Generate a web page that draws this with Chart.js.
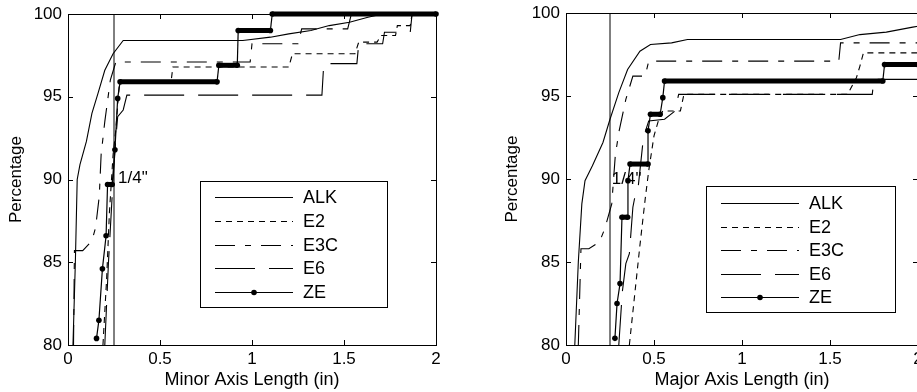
<!DOCTYPE html>
<html>
<head>
<meta charset="utf-8">
<script src="https://cdn.jsdelivr.net/npm/chart.js@4.4.1/dist/chart.umd.min.js"></script>
<style>
  html, body { margin: 0; padding: 0; background: #fff; overflow: hidden; }
  body { width: 917px; height: 392px; position: relative; }
  canvas { position: absolute; top: 0; }
  #minorChart { left: 0; }
  #majorChart { left: 496px; }
</style>
</head>
<body>
<canvas id="minorChart" width="460" height="392"></canvas>
<canvas id="majorChart" width="446" height="392"></canvas>
<script>
// series and axis values
const seriesNames = ['ALK', 'E2', 'E3C', 'E6', 'ZE'];
const xTicks = [0, 0.5, 1, 1.5, 2];
const yTicks = [80, 85, 90, 95, 100];
const quarterInch = 0.25;
const quarterLabel = '1/4"';

// minor axis length (in) vs cumulative percentage
const minorALK = [[0.027,80],[0.04,85],[0.05,90],[0.065,90.9],[0.1,92.3],[0.13,94.0],[0.163,95.2],[0.2,96.6],[0.245,97.6],[0.3,98.4],[0.95,98.4],[1.1,98.6],[1.2,98.8],[1.32,99.0],[1.42,99.3],[1.53,99.5],[1.63,99.8],[1.71,100],[2,100]];
const minorE2 = [[0.19,80],[0.21,84],[0.225,88],[0.245,91.5],[0.26,93],[0.27,94.5],[0.28,95.9],[0.56,95.9],[0.57,96.8],[1.2,96.8],[1.22,97.6],[1.56,97.6],[1.58,98.3],[1.68,98.3],[1.7,98.7],[1.78,98.7],[1.79,99.3],[1.86,99.3],[1.87,100],[2,100]];
const minorE3C = [[0.03,80],[0.035,85.7],[0.08,85.7],[0.13,86.3],[0.15,87.1],[0.17,89],[0.18,91.5],[0.2,93.5],[0.23,96],[0.26,97.1],[0.99,97.1],[1.0,98.2],[1.25,98.2],[1.27,99.1],[1.52,99.1],[1.54,100],[2,100]];
const minorE6 = [[0.2,80],[0.22,85],[0.245,90],[0.26,92.5],[0.27,93.8],[0.3,94.2],[0.32,95.1],[1.38,95.1],[1.39,97.0],[1.57,97.0],[1.58,98.2],[1.71,98.2],[1.72,98.9],[1.86,98.9],[1.87,100],[2,100]];
const minorZE = [[0.155,80.4],[0.168,81.5],[0.187,84.6],[0.207,86.6],[0.215,89.7],[0.24,89.7],[0.255,91.8],[0.27,94.9],[0.283,95.9],[0.81,95.9],[0.82,96.9],[0.92,96.9],[0.925,99.0],[1.1,99.0],[1.11,100],[2,100]];

// major axis length (in) vs cumulative percentage
const majorALK = [[0.05,80],[0.07,85],[0.09,88.5],[0.108,89.9],[0.15,90.8],[0.21,92.2],[0.25,93.6],[0.3,95.2],[0.35,96.6],[0.42,97.7],[0.48,98.1],[0.6,98.2],[0.69,98.4],[1.56,98.4],[1.67,98.7],[1.82,98.85],[1.97,99.15],[2,99.2]];
const majorE2 = [[0.36,80],[0.39,83],[0.42,86],[0.45,88.8],[0.47,90.5],[0.5,92.6],[0.53,93.7],[0.55,94.1],[0.65,94.1],[0.67,95.1],[1.6,95.1],[1.65,96.1],[1.67,96.8],[1.69,97.6],[2,97.6]];
const majorE3C = [[0.07,80],[0.085,85.8],[0.13,85.8],[0.19,86.2],[0.22,87],[0.26,88.5],[0.28,91.4],[0.3,92.8],[0.34,94.8],[0.38,96.2],[0.45,96.2],[0.47,97.1],[1.55,97.1],[1.56,98.2],[2,98.2]];
const majorE6 = [[0.3,80],[0.32,83.2],[0.34,84.9],[0.36,85.5],[0.38,88.3],[0.4,89.4],[0.41,89.5],[0.44,92.5],[0.47,93.5],[0.56,93.6],[0.62,94.1],[0.64,95.1],[1.74,95.1],[1.75,96.0],[2,96.0]];
const majorZE = [[0.278,80.4],[0.29,82.5],[0.307,83.7],[0.318,87.7],[0.35,87.7],[0.352,89.9],[0.364,90.9],[0.466,90.9],[0.466,92.9],[0.48,93.9],[0.535,93.9],[0.55,94.9],[0.56,95.9],[1.8,95.9],[1.81,96.9],[2,96.9]];

// line styles, matlab-ish
const lineStyles = {
  ALK: { dash: [] },
  E2:  { dash: [6, 5] },
  E3C: { dash: [20, 10, 6, 10] },
  E6:  { dash: [40, 14] },
  ZE:  { dash: [], dots: true }
};

const FONT = "'Liberation Sans', Arial, Helvetica, sans-serif";
Chart.defaults.font.family = FONT;
Chart.defaults.font.size = 17;
Chart.defaults.color = '#000';

function toPoints(pairs) {
  return pairs.map(([x, y]) => ({ x, y }));
}

function buildDatasets(panel) {
  const sets = seriesNames.map(name => {
    const st = lineStyles[name];
    return {
      label: name,
      data: toPoints(panel[name]),
      borderColor: '#000',
      backgroundColor: '#000',
      borderWidth: 1.1,
      borderDash: st.dash,
      pointRadius: st.dots ? 2.8 : 0,
      pointHoverRadius: 0,
      pointBackgroundColor: '#000',
      pointBorderWidth: 0,
      tension: 0,
      fill: false,
      clip: 4,
      // flat runs of the dotted series look solid because the dots pile up
      segment: st.dots ? { borderWidth: c => c.p0.parsed.y === c.p1.parsed.y ? 5 : 1.2 } : {}
    };
  });
  // the 1/4" reference line
  sets.push({
    label: '',
    data: [{ x: quarterInch, y: yTicks[0] }, { x: quarterInch, y: yTicks[yTicks.length - 1] }],
    borderColor: '#000',
    borderWidth: 1,
    pointRadius: 0,
    clip: 0
  });
  return sets;
}

// box, inward ticks, the 1/4" text and the legend
const framePlugin = {
  id: 'frame',
  afterDatasetsDraw(chart, args, o) {
    const { ctx, chartArea: a, scales: { x, y } } = chart;
    ctx.save();
    ctx.strokeStyle = '#000';
    ctx.fillStyle = '#000';
    ctx.lineWidth = 1;
    ctx.setLineDash([]);
    ctx.strokeRect(a.left + 0.5, a.top + 0.5, a.right - a.left, a.bottom - a.top);

    ctx.beginPath();
    xTicks.forEach(v => {
      const px = Math.round(x.getPixelForValue(v)) + 0.5;
      ctx.moveTo(px, a.bottom); ctx.lineTo(px, a.bottom - 5);
      ctx.moveTo(px, a.top); ctx.lineTo(px, a.top + 5);
    });
    yTicks.forEach(v => {
      const py = Math.round(y.getPixelForValue(v)) + 0.5;
      ctx.moveTo(a.left, py); ctx.lineTo(a.left + 5, py);
      ctx.moveTo(a.right, py); ctx.lineTo(a.right - 5, py);
    });
    ctx.stroke();

    ctx.font = '17px ' + FONT;
    ctx.textBaseline = 'middle';
    ctx.textAlign = 'left';
    ctx.fillText(quarterLabel, x.getPixelForValue(o.markX), y.getPixelForValue(o.markY));

    // legend box
    const b = o.box;
    const lx = Math.round(a.left + b.x), ly = Math.round(a.top + b.y);
    ctx.fillStyle = '#fff';
    ctx.fillRect(lx, ly, b.w, b.h);
    ctx.strokeRect(lx + 0.5, ly + 0.5, b.w, b.h);
    ctx.fillStyle = '#000';
    ctx.font = '18px ' + FONT;
    chart.data.datasets.filter(ds => ds.label).forEach((ds, i) => {
      const ry = Math.round(ly + b.first + i * b.gap) + 0.5;
      ctx.lineWidth = 1.1;
      ctx.setLineDash(ds.borderDash || []);
      ctx.beginPath();
      ctx.moveTo(lx + 15, ry);
      ctx.lineTo(lx + 93, ry);
      ctx.stroke();
      ctx.setLineDash([]);
      if (ds.pointRadius > 0) {
        ctx.beginPath();
        ctx.arc(lx + 54, ry, ds.pointRadius, 0, Math.PI * 2);
        ctx.fill();
      }
      ctx.fillText(ds.label, lx + 103, ry + 1);
    });
    ctx.restore();
  }
};

function makeChart(id, panel, xTitle, cfg) {
  return new Chart(document.getElementById(id), {
    type: 'line',
    data: { datasets: buildDatasets(panel) },
    plugins: [framePlugin],
    options: {
      responsive: false,
      animation: false,
      events: [],
      layout: { padding: { left: 0, right: 24, top: cfg.top, bottom: 0 } },
      plugins: {
        legend: { display: false },
        tooltip: { enabled: false },
        frame: { box: cfg.box, markX: cfg.markX, markY: cfg.markY }
      },
      scales: {
        x: {
          type: 'linear',
          min: xTicks[0],
          max: xTicks[xTicks.length - 1],
          afterBuildTicks: s => { s.ticks = xTicks.map(value => ({ value })); },
          ticks: { padding: 4, maxRotation: 0, callback: v => String(v) },
          grid: { display: false, drawTicks: false },
          border: { display: false },
          title: { display: true, text: xTitle, font: { size: 18 }, padding: { top: 0, bottom: 1 } },
          afterFit: s => { s.height = 47; s.paddingLeft = 0; s.paddingRight = 0; }
        },
        y: {
          type: 'linear',
          min: yTicks[0],
          max: yTicks[yTicks.length - 1],
          afterBuildTicks: s => { s.ticks = yTicks.map(value => ({ value })); },
          ticks: { padding: 6 },
          grid: { display: false, drawTicks: false },
          border: { display: false },
          title: { display: true, text: 'Percentage', font: { size: 17 }, padding: { top: 6, bottom: 0 } },
          afterFit: s => { s.width = cfg.yWidth; s.paddingTop = 0; s.paddingBottom = 0; }
        }
      }
    }
  });
}

makeChart('minorChart',
  { ALK: minorALK, E2: minorE2, E3C: minorE3C, E6: minorE6, ZE: minorZE },
  'Minor Axis Length (in)',
  { top: 14, yWidth: 68, markX: 0.272, markY: 90.1,
    box: { x: 132, y: 167, w: 187, h: 126, first: 16, gap: 23.8 } });

makeChart('majorChart',
  { ALK: majorALK, E2: majorE2, E3C: majorE3C, E6: majorE6, ZE: majorZE },
  'Major Axis Length (in)',
  { top: 13, yWidth: 70, markX: 0.26, markY: 90.0,
    box: { x: 140, y: 173, w: 189, h: 126, first: 17, gap: 23.6 } });
</script>
</body>
</html>
